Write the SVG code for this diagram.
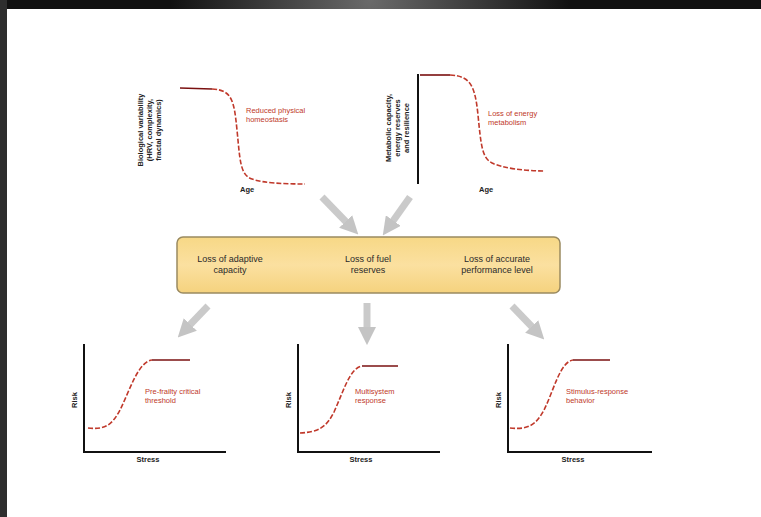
<svg xmlns="http://www.w3.org/2000/svg" width="761" height="517" viewBox="0 0 761 517">
<defs>
<radialGradient id="topglow" cx="370" cy="0" r="200" gradientUnits="userSpaceOnUse">
<stop offset="0" stop-color="#6a6a6a"/>
<stop offset="1" stop-color="#111"/>
</radialGradient>
<linearGradient id="boxfill" x1="0" y1="0" x2="0" y2="1">
<stop offset="0" stop-color="#f7d886"/>
<stop offset="0.5" stop-color="#fbe0a0"/>
<stop offset="1" stop-color="#f5d27e"/>
</linearGradient>
<marker id="ah" viewBox="0 0 10 10" refX="5" refY="5" markerWidth="2.6" markerHeight="2.6" orient="auto">
<path d="M0,0 L10,5 L0,10 z" fill="#c4c4c4"/>
</marker>
</defs>
<style>
.axis{stroke:#111;stroke-width:2;fill:none}
.curve{stroke:#c0392b;stroke-width:1.6;fill:none;stroke-dasharray:5 2}
.flat{stroke:#7a1010;stroke-width:1.6;fill:none}
.lbl{font-family:"Liberation Sans",Arial,sans-serif;font-size:7.5px;fill:#c0392b}
.ax{font-family:"Liberation Sans",Arial,sans-serif;font-size:7.5px;fill:#222;font-weight:bold}
.box{font-family:"Liberation Sans",Arial,sans-serif;font-size:9px;fill:#2a2a2a}
.arr{stroke:#cacaca;stroke-width:7;fill:none}
</style>
<rect x="0" y="0" width="761" height="517" fill="#fff"/>
<rect x="0" y="0" width="761" height="9" fill="url(#topglow)"/>
<rect x="0" y="0" width="7" height="517" fill="#2e2e2e"/>

<g id="graph-top-left">
<path class="flat" d="M180,88 L212,89"/>
<path class="curve" d="M212,89 C232,90 234,100 237,130 C240,160 240,175 252,179 C262,183 285,184 305,184"/>
<text class="lbl" x="246" y="113">Reduced physical</text>
<text class="lbl" x="246" y="122">homeostasis</text>
<text class="ax" transform="translate(143,130) rotate(-90)" text-anchor="middle">Biological variability</text>
<text class="ax" transform="translate(152,130) rotate(-90)" text-anchor="middle">(HRV, complexity,</text>
<text class="ax" transform="translate(161,130) rotate(-90)" text-anchor="middle">fractal dynamics)</text>
<text class="ax" x="240" y="192">Age</text>
</g>

<g id="graph-top-right">
<path class="axis" d="M418,74 L418,184"/>
<path class="flat" d="M420,75 L450,75"/>
<path class="curve" d="M450,75 C470,76 475,85 478,115 C481,145 482,158 492,163 C502,168 525,171 545,171"/>
<text class="lbl" x="488" y="116">Loss of energy</text>
<text class="lbl" x="488" y="125">metabolism</text>
<text class="ax" transform="translate(391,128) rotate(-90)" text-anchor="middle">Metabolic capacity,</text>
<text class="ax" transform="translate(400,128) rotate(-90)" text-anchor="middle">energy reserves</text>
<text class="ax" transform="translate(409,128) rotate(-90)" text-anchor="middle">and resilience</text>
<text class="ax" x="479" y="192">Age</text>
</g>

<g id="connectors">
<path class="arr" d="M322,197 L352,228" marker-end="url(#ah)"/>
<path class="arr" d="M410,197 L388,228" marker-end="url(#ah)"/>
<path class="arr" d="M208,306 L184,331" marker-end="url(#ah)"/>
<path class="arr" d="M367,303 L367,336" marker-end="url(#ah)"/>
<path class="arr" d="M512,306 L538,333" marker-end="url(#ah)"/>
</g>

<g id="box">
<rect x="177" y="237" width="383" height="56" rx="6" fill="url(#boxfill)" stroke="#9a8a60" stroke-width="1.5"/>
<text class="box" x="230" y="262" text-anchor="middle">Loss of adaptive</text>
<text class="box" x="230" y="273" text-anchor="middle">capacity</text>
<text class="box" x="368" y="262" text-anchor="middle">Loss of fuel</text>
<text class="box" x="368" y="273" text-anchor="middle">reserves</text>
<text class="box" x="497" y="262" text-anchor="middle">Loss of accurate</text>
<text class="box" x="497" y="273" text-anchor="middle">performance level</text>
</g>

<g id="graph-bottom-1">
<path class="axis" d="M84,344 L84,452 L226,452"/>
<path class="curve" d="M88,428 C105,430 112,425 120,410 C130,390 138,362 152,360"/>
<path class="flat" d="M152,360 L190,360"/>
<text class="lbl" x="145" y="394">Pre-frailty critical</text>
<text class="lbl" x="145" y="403">threshold</text>
<text class="ax" transform="translate(77,400) rotate(-90)" text-anchor="middle">Risk</text>
<text class="ax" x="148" y="462" text-anchor="middle">Stress</text>
</g>

<g id="graph-bottom-2">
<path class="axis" d="M298,344 L298,452 L440,452"/>
<path class="curve" d="M300,433 C318,432 326,428 334,412 C344,390 350,368 362,366"/>
<path class="flat" d="M362,366 L398,366"/>
<text class="lbl" x="355" y="394">Multisystem</text>
<text class="lbl" x="355" y="403">response</text>
<text class="ax" transform="translate(291,400) rotate(-90)" text-anchor="middle">Risk</text>
<text class="ax" x="361" y="462" text-anchor="middle">Stress</text>
</g>

<g id="graph-bottom-3">
<path class="axis" d="M508,344 L508,452 L652,452"/>
<path class="curve" d="M510,428 C528,430 536,425 544,410 C554,390 560,362 573,360"/>
<path class="flat" d="M573,360 L610,360"/>
<text class="lbl" x="566" y="394">Stimulus-response</text>
<text class="lbl" x="566" y="403">behavior</text>
<text class="ax" transform="translate(501,400) rotate(-90)" text-anchor="middle">Risk</text>
<text class="ax" x="573" y="462" text-anchor="middle">Stress</text>
</g>
</svg>
